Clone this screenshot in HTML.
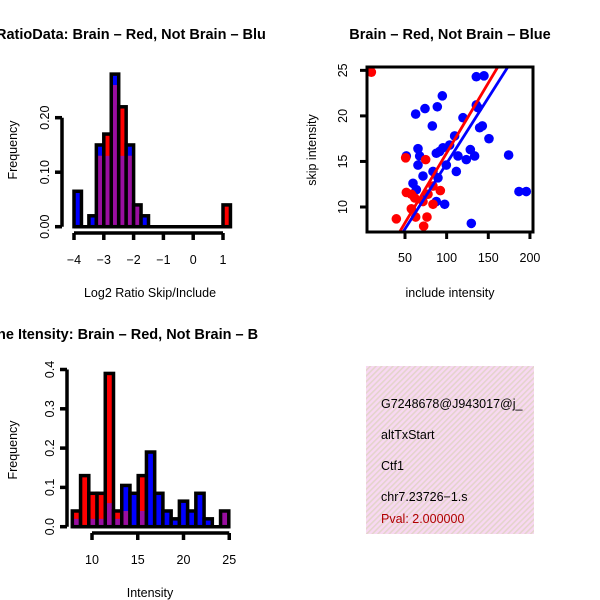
<!DOCTYPE html>
<html><head><meta charset="utf-8"><style>
html,body{margin:0;padding:0;background:#fff;}
svg{display:block;font-family:"Liberation Sans",sans-serif;}
</style></head><body>
<svg id="c" width="600" height="600" viewBox="0 0 600 600" xmlns="http://www.w3.org/2000/svg">
<defs>
<pattern id="hatch" width="4" height="4" patternUnits="userSpaceOnUse" patternTransform="rotate(45)">
<rect width="4" height="4" fill="#f8d8f2"/><rect width="1.6" height="4" fill="#e4d4cc"/>
</pattern>
<clipPath id="clipTL"><rect x="0" y="0" width="300" height="300"/></clipPath>
<clipPath id="clipBL"><rect x="0" y="300" width="300" height="300"/></clipPath>
<clipPath id="clipSc"><rect x="367" y="67" width="166" height="165"/></clipPath>
<clipPath id="clipInfo"><rect x="366" y="366" width="168" height="168"/></clipPath>
</defs>
<g id="tl"></g>
<g id="tr"></g>
<g id="bl"></g>
<g clip-path="url(#clipInfo)">
<rect x="366" y="366" width="168" height="168" fill="url(#hatch)"/>
<text x="381" y="408" font-size="12.5">G7248678@J943017@j_</text>
<text x="381" y="439" font-size="12.5">altTxStart</text>
<text x="381" y="470" font-size="12.5">Ctf1</text>
<text x="381" y="501" font-size="12.5">chr7.23726−1.s</text>
<text x="381" y="523" font-size="12.5" fill="#b00000">Pval: 2.000000</text>
</g>
</svg>
<script>
// ---- data: ratio histogram ----
const ratioBinStarts = [-4,-3.75,-3.5,-3.25,-3,-2.75,-2.5,-2.25,-2,-1.75,-1.5,-1.25,-1,-0.75,-0.5,-0.25,0,0.25,0.5,0.75,1];
const ratioBlue = [0.065,0,0.02,0.15,0.13,0.28,0.13,0.15,0.04,0.02,0,0,0,0,0,0,0,0,0,0,0];
const ratioRed  = [0,0,0,0.13,0.17,0.26,0.22,0.13,0.04,0,0,0,0,0,0,0,0,0,0,0,0.04];
const ratioXTicks = [-4,-3,-2,-1,0,1];
const ratioYTicks = ["0.00","0.10","0.20"];
// ---- data: intensity histogram ----
const intBinStarts = [7.85,8.75,9.65,10.55,11.45,12.35,13.25,14.15,15.05,15.95,16.85,17.75,18.65,19.55,20.45,21.35,22.25,23.15,24.05];
const intBlue = [0.02,0,0.02,0.02,0.06,0.02,0.105,0.085,0.04,0.19,0.085,0.04,0.02,0.065,0.04,0.085,0.02,0,0.04];
const intRed  = [0.04,0.13,0.085,0.085,0.39,0.04,0.04,0,0.13,0,0,0,0,0,0,0,0,0,0.04];
const intXTicks = [10,15,20,25];
const intYTicks = ["0.0","0.1","0.2","0.3","0.4"];
// ---- data: scatter ----
const blueX = [51.6,62.8,74,88.8,94.8,82.8,65.6,67.6,65.6,59.6,63.6,71.6,83.6,87.6,95.6,103.6,109.6,99.6,113.6,111.6,119.6,123.6,128.4,133.6,135.6,137.6,139.6,142.8,135.6,144.8,150.8,174.4,186.8,195.6,129.6,97.6,87.6,89.6,75.6,91.6];
const blueY = [15.6,20.2,20.8,21,22.2,18.9,16.4,15.6,14.6,12.6,11.9,13.4,13.9,15.9,16.5,16.8,17.8,14.6,15.6,13.9,19.8,15.2,16.3,15.6,21.2,20.9,18.7,18.9,24.3,24.4,17.5,15.7,11.7,11.7,8.2,10.3,10.6,13.2,11.4,16.1];
const redX = [9.6,50.8,74.8,51.6,57.6,61.6,57.6,62.8,39.6,72.4,76.4,83.6,92.4,71.6,77.6,83.6];
const redY = [24.8,15.4,15.2,11.6,11.4,11,9.8,8.9,8.7,7.9,8.9,10.3,11.8,10.6,11.4,12.3];
const fitSlope = [0.1536,0.144];       // red, blue
const fitIntercept = [0.576,0.39];
const scXTicks = [50,100,150,200];
const scYTicks = [10,15,20,25];

const NS="http://www.w3.org/2000/svg";
function mk(parent,tag,attrs,text){const e=document.createElementNS(NS,tag);for(const k in attrs)e.setAttribute(k,attrs[k]);if(text!==undefined)e.textContent=text;parent.appendChild(e);return e;}

function histogram(g,o){
  const sx=v=>o.x0+(v-o.v0)*o.kx, sy=v=>o.y0-v*o.ky;
  const inner=mk(g,'g',{});
  const outlines=[];
  for(let i=0;i<o.starts.length;i++){
    const a=sx(o.starts[i]), w=o.bw*o.kx, b=o.blue[i], r=o.red[i], m=Math.max(b,r), mn=Math.min(b,r);
    const bar=mk(inner,'g',{});
    
    
    if(b>0) mk(bar,'rect',{x:a,y:sy(b),width:w,height:sy(0)-sy(b),fill:'#0000ff'});
    if(r>0) mk(bar,'rect',{x:a,y:sy(r),width:w,height:sy(0)-sy(r),fill:'#ff0000'});
    if(mn>0) mk(bar,'rect',{x:a,y:sy(mn),width:w,height:sy(0)-sy(mn),fill:'#9a0ea0'});
    outlines.push([bar,a,w,m]);
  }
  outlines.forEach(([bar,a,w,m])=>{ if(m>0) mk(bar,'rect',{x:a,y:sy(m),width:w,height:sy(0)-sy(m),fill:'none',stroke:'#000','stroke-width':3.5}); });
  const last=o.starts[o.starts.length-1]+o.bw;
  mk(inner,'line',{x1:sx(o.starts[0]),x2:sx(last),y1:sy(0),y2:sy(0),stroke:'#000','stroke-width':3.5});
  const ya=mk(g,'g',{});
  const yv=o.yTicks.map(Number);
  mk(ya,'line',{x1:o.ax,x2:o.ax,y1:sy(yv[0]),y2:sy(yv[yv.length-1]),stroke:'#000','stroke-width':3.5});
  o.yTicks.forEach((t,i)=>{const y=sy(yv[i]);mk(ya,'line',{x1:o.ax-7,x2:o.ax,y1:y,y2:y,stroke:'#000','stroke-width':3.5});
    mk(ya,'text',{x:o.ax-17,y:y,'font-size':12.5,'text-anchor':'middle',transform:`rotate(-90 ${o.ax-17} ${y})`,'dominant-baseline':'central'},t);});
  const xa=mk(g,'g',{});
  const xy=o.xAxisY;
  mk(xa,'line',{x1:sx(o.xTicks[0]),x2:sx(o.xTicks[o.xTicks.length-1]),y1:xy,y2:xy,stroke:'#000','stroke-width':3.5});
  o.xTicks.forEach(t=>{const x=sx(t);mk(xa,'line',{x1:x,x2:x,y1:xy,y2:xy+7,stroke:'#000','stroke-width':3.5});
    mk(xa,'text',{x:x,y:xy+31,'font-size':12.5,'text-anchor':'middle'},String(t).replace('-','−'));});
  const xt=mk(g,'text',{x:o.xTitleX,y:o.xTitleY,'font-size':12.5,'text-anchor':'middle'},o.xTitle);
  
  const yt=mk(g,'text',{x:13,y:o.yTitleY,'font-size':12.5,'text-anchor':'middle',transform:`rotate(-90 13 ${o.yTitleY})`,'dominant-baseline':'central'},'Frequency');
  
  const ti=mk(g,'text',{x:o.titleX,y:o.titleY,'font-size':14.5,'font-weight':'bold'},o.title);
  
}

const tl=document.getElementById('tl'); tl.setAttribute('clip-path','url(#clipTL)');
histogram(tl,{starts:ratioBinStarts,blue:ratioBlue,red:ratioRed,bw:0.25,v0:-4,x0:74,kx:29.8,y0:226.7,ky:545,
  ax:62,yTicks:ratioYTicks,xTicks:ratioXTicks,xAxisY:233,xTitle:'Log2 Ratio Skip/Include',xTitleX:150,xTitleY:297,yTitleY:150,
  title:'RatioData: Brain – Red, Not Brain – Blu',titleX:-4,titleY:39});

const bl=document.getElementById('bl'); bl.setAttribute('clip-path','url(#clipBL)');
histogram(bl,{starts:intBinStarts,blue:intBlue,red:intRed,bw:0.9,v0:10,x0:92,kx:9.15,y0:526.7,ky:393,
  ax:67,yTicks:intYTicks,xTicks:intXTicks,xAxisY:533,xTitle:'Intensity',xTitleX:150,xTitleY:597,yTitleY:450,
  title:'ne Itensity: Brain – Red, Not Brain – B',titleX:-3,titleY:339});

const tr=document.getElementById('tr');
const sx=v=>405+(v-50)*0.833, sy=v=>207-(v-10)*9.11;
const pts=mk(tr,'g',{'clip-path':'url(#clipSc)'});
blueX.forEach((x,i)=>{const c=mk(pts,'circle',{cx:sx(x),cy:sy(blueY[i]),r:4.8,fill:'#0000ff'});
  });
redX.forEach((x,i)=>{const c=mk(pts,'circle',{cx:sx(x),cy:sy(redY[i]),r:4.8,fill:'#ff0000'});
  });
['#ff0000','#0000ff'].forEach((col,i)=>{const l=mk(pts,'line',{x1:sx(0),y1:sy(fitIntercept[i]),x2:sx(250),y2:sy(fitIntercept[i]+fitSlope[i]*250),stroke:col,'stroke-width':2.8});
  });
const box=mk(tr,'rect',{x:367,y:67,width:166,height:165,fill:'none',stroke:'#000','stroke-width':3});

scXTicks.forEach(t=>{const x=sx(t);mk(tr,'line',{x1:x,x2:x,y1:232,y2:239,stroke:'#000','stroke-width':3});
  mk(tr,'text',{x:x,y:262,'font-size':12.5,'text-anchor':'middle'},String(t));});
scYTicks.forEach(t=>{const y=sy(t);mk(tr,'line',{x1:360,x2:367,y1:y,y2:y,stroke:'#000','stroke-width':3});
  mk(tr,'text',{x:343,y:y,'font-size':12.5,'text-anchor':'middle','dominant-baseline':'central',transform:`rotate(-90 343 ${y})`},String(t));});
const sxt=mk(tr,'text',{x:450,y:297,'font-size':12.5,'text-anchor':'middle'},'include intensity');

const syt=mk(tr,'text',{x:312,y:150,'font-size':12.5,'text-anchor':'middle','dominant-baseline':'central',transform:'rotate(-90 312 150)'},'skip intensity');

const stt=mk(tr,'text',{x:450,y:39,'font-size':14.5,'font-weight':'bold','text-anchor':'middle'},'Brain – Red, Not Brain – Blue');

</script>
</body></html>
